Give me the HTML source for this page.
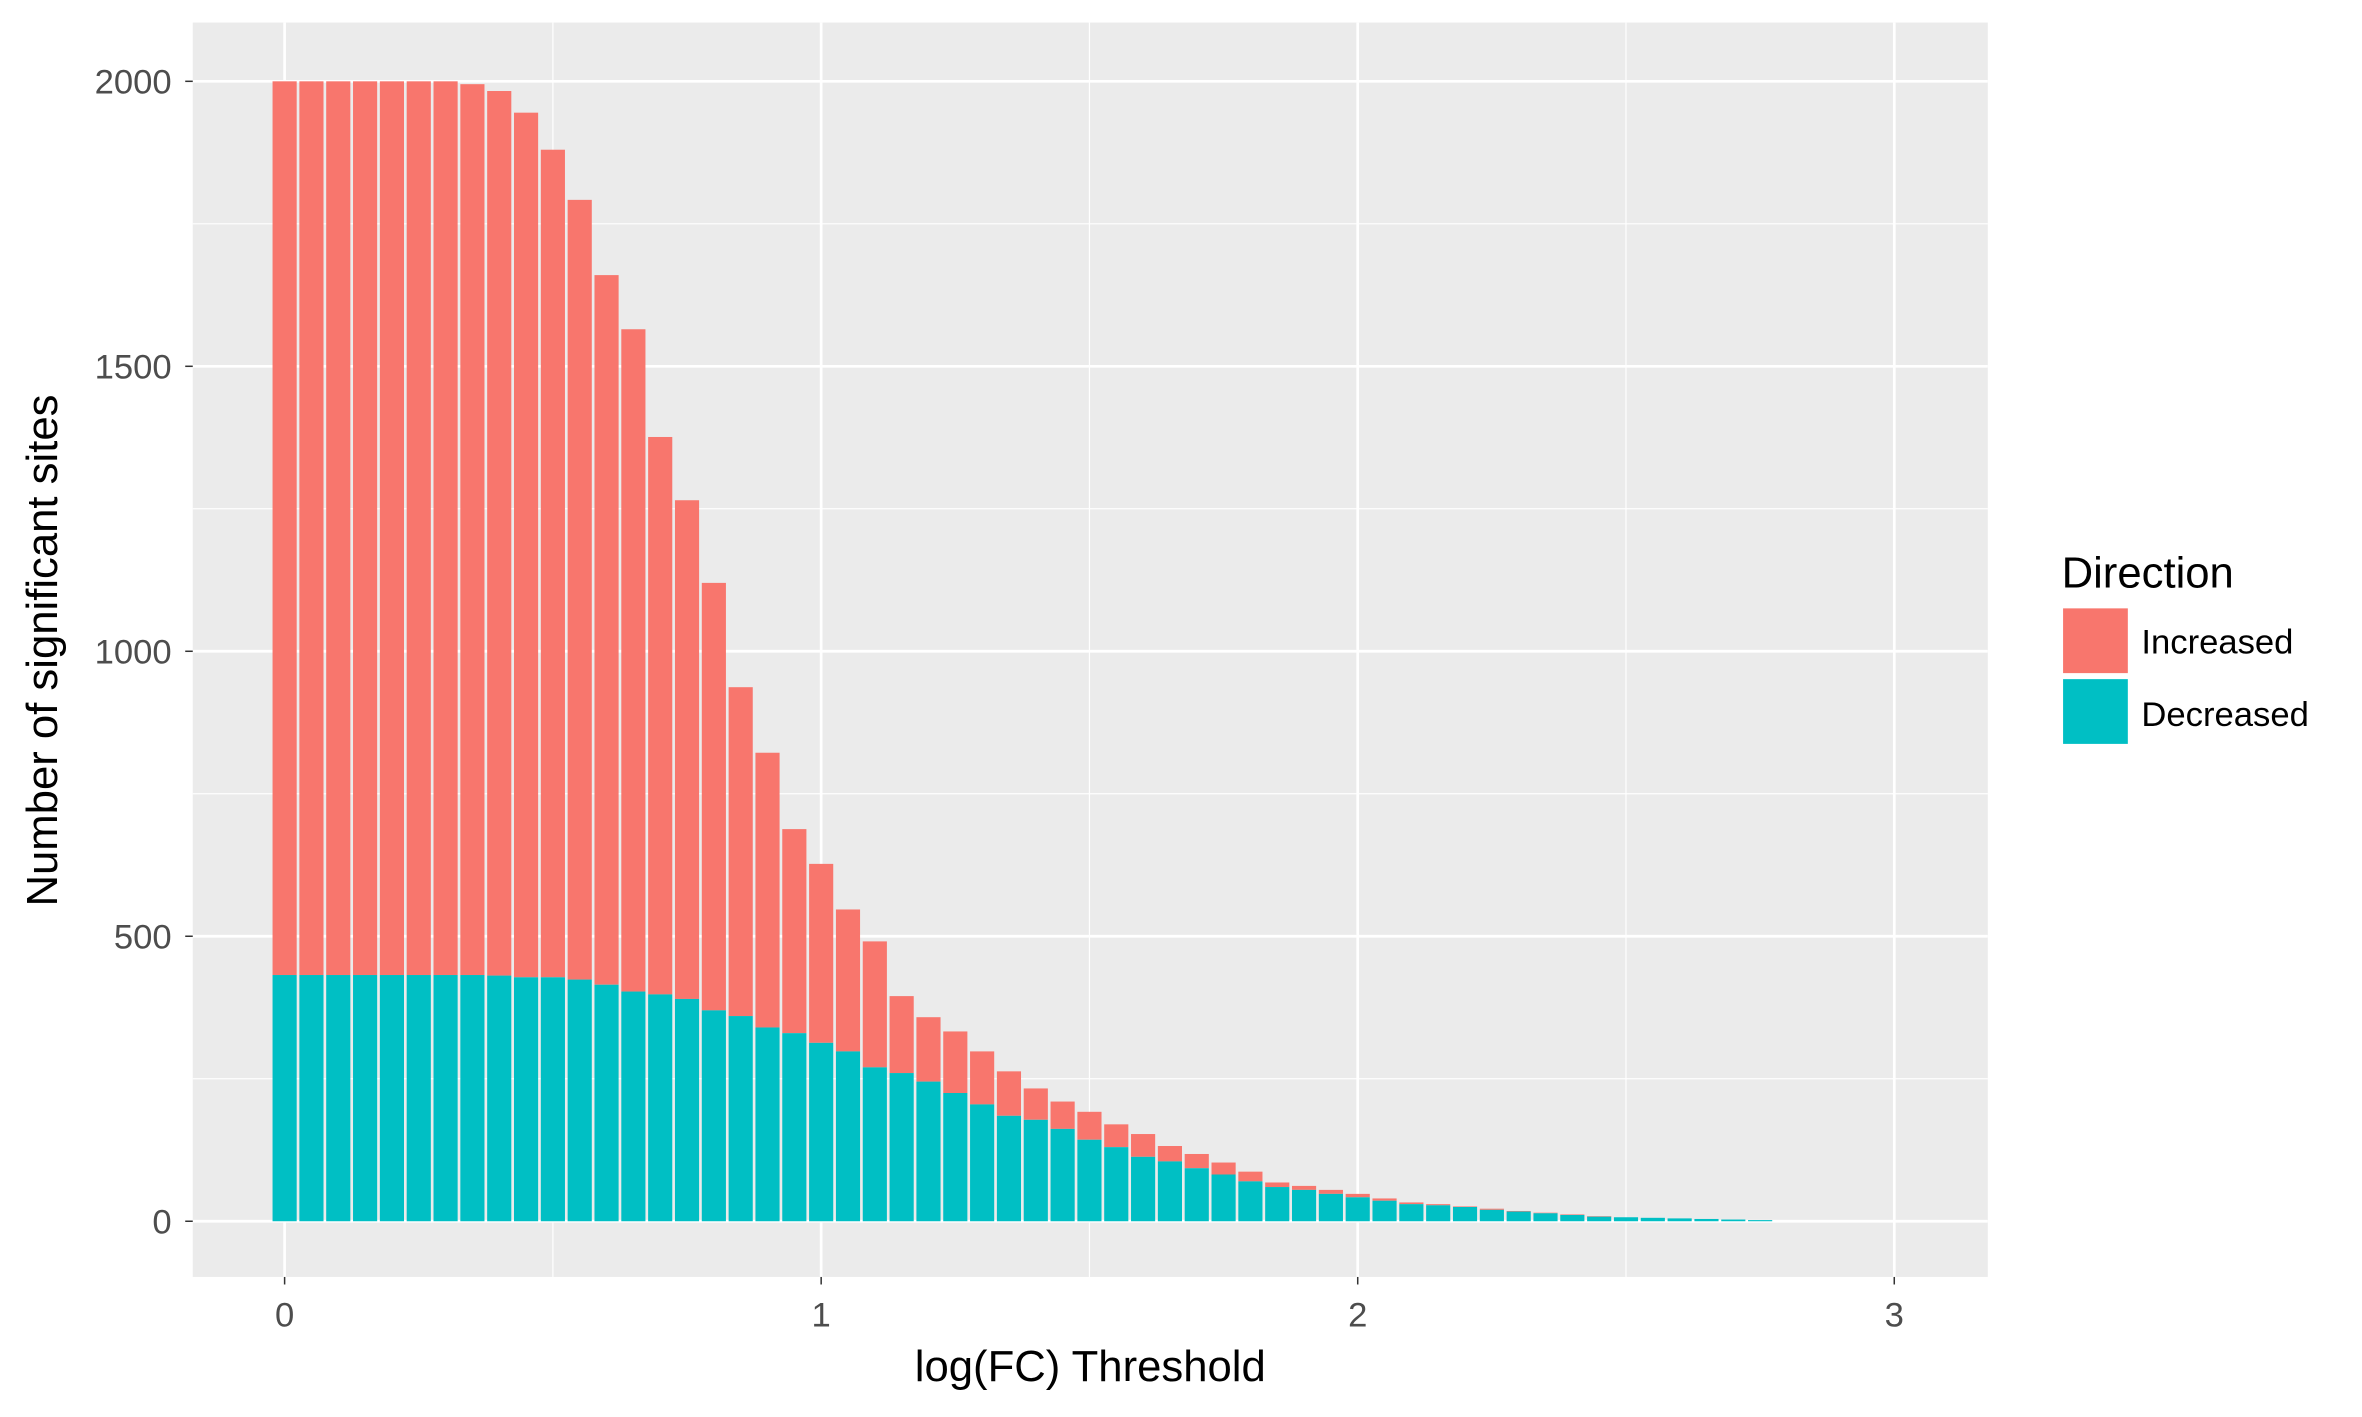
<!DOCTYPE html>
<html><head><meta charset="utf-8"><style>
html,body{margin:0;padding:0;background:#fff;}
svg{display:block;font-family:"Liberation Sans",sans-serif;}
</style></head><body>
<svg id="chart" width="2362" height="1417" viewBox="0 0 1568.5 941" preserveAspectRatio="none" xmlns="http://www.w3.org/2000/svg">
<rect x="128" y="15" width="1192" height="833" fill="#ebebeb"/>
<g id="grid"></g>
<g id="bars"></g>
<g id="axes"></g>
<text x="724" y="917" font-size="29" text-anchor="middle" fill="#000">log(FC) Threshold</text>
<text transform="translate(38,432) rotate(-90)" font-size="29" text-anchor="middle" fill="#000">Number of significant sites</text>
<g>
<text x="1369" y="390" font-size="29">Direction</text>
<rect x="1370" y="404" width="43" height="43" fill="#f8766d"/>
<text x="1422" y="434" font-size="23">Increased</text>
<rect x="1370" y="451" width="43" height="43" fill="#00bfc4"/>
<text x="1422" y="482" font-size="23">Decreased</text>
</g>
</svg>
<script>
const thresholds = [0,0.05,0.1,0.15,0.2,0.25,0.3,0.35,0.4,0.45,0.5,0.55,0.6,0.65,0.7,0.75,0.8,0.85,0.9,0.95,1.0,1.05,1.1,1.15,1.2,1.25,1.3,1.35,1.4,1.45,1.5,1.55,1.6,1.65,1.7,1.75,1.8,1.85,1.9,1.95,2.0,2.05,2.1,2.15,2.2,2.25,2.3,2.35,2.4,2.45,2.5,2.55,2.6,2.65,2.7,2.75];
const totalSites = [2000,2000,2000,2000,2000,2000,2000,1995,1983,1945,1880,1792,1660,1565,1376,1265,1120,937,822,688,627,547,491,395,358,333,298,263,233,210,192,170,153,132,118,103,87,68,62,55,48,40,33,30,26,22,18,15,12,9,7,6,5,4,3,2];
const decreasedSites = [432,432,432,432,432,432,432,432,431,428,428,424,415,403,398,390,370,360,340,330,313,298,270,260,245,225,205,185,178,162,143,130,113,105,93,82,70,60,55,48,42,36,30,28,25,20,17,14,11,8,7,6,5,4,3,2];
const xTicks = [0,1,2,3];
const xMinor = [0.5,1.5,2.5];
const yTicks = [0,500,1000,1500,2000];
const yMinor = [250,750,1250,1750];

const NS = "http://www.w3.org/2000/svg";
const xScale = v => 189 + v * 356.3;
const yScale = v => 811 - v * 0.3785;
function mk(tag, attrs, parent){const e=document.createElementNS(NS,tag);for(const k in attrs)e.setAttribute(k,attrs[k]);parent.appendChild(e);return e;}
const grid=document.getElementById('grid'), bars=document.getElementById('bars'), axes=document.getElementById('axes');
xMinor.forEach(v=>{const l=mk('line',{x1:xScale(v),x2:xScale(v),y1:15,y2:848,stroke:'#fff','stroke-width':0.8},grid);

});
yMinor.forEach(v=>{const l=mk('line',{x1:128,x2:1320,y1:yScale(v),y2:yScale(v),stroke:'#fff','stroke-width':0.8},grid);

});
xTicks.forEach(v=>{const l=mk('line',{x1:xScale(v),x2:xScale(v),y1:15,y2:848,stroke:'#fff','stroke-width':1.8},grid);


const t=mk('line',{x1:xScale(v),x2:xScale(v),y1:848,y2:853,stroke:'#333','stroke-width':1},axes);


const tx=mk('text',{x:xScale(v),y:881,'font-size':23,'text-anchor':'middle',fill:'#4d4d4d'},axes);tx.textContent=v;

});
yTicks.forEach(v=>{const l=mk('line',{x1:128,x2:1320,y1:yScale(v),y2:yScale(v),stroke:'#fff','stroke-width':1.8},grid);


const t=mk('line',{x1:123,x2:128,y1:yScale(v),y2:yScale(v),stroke:'#333','stroke-width':1},axes);


const tx=mk('text',{x:114,y:yScale(v)+8,'font-size':23,'text-anchor':'end',fill:'#4d4d4d'},axes);tx.textContent=v;

});
const bw = 0.045*356.3;
thresholds.forEach((t,i)=>{
 const x=xScale(t)-bw/2;
 const inc=mk('rect',{x:x,y:yScale(totalSites[i]),width:bw,height:yScale(decreasedSites[i])-yScale(totalSites[i]),fill:'#f8766d'},bars);
 
 
 const dec=mk('rect',{x:x,y:yScale(decreasedSites[i]),width:bw,height:yScale(0)-yScale(decreasedSites[i]),fill:'#00bfc4'},bars);
 
 
});
</script>
</body></html>
